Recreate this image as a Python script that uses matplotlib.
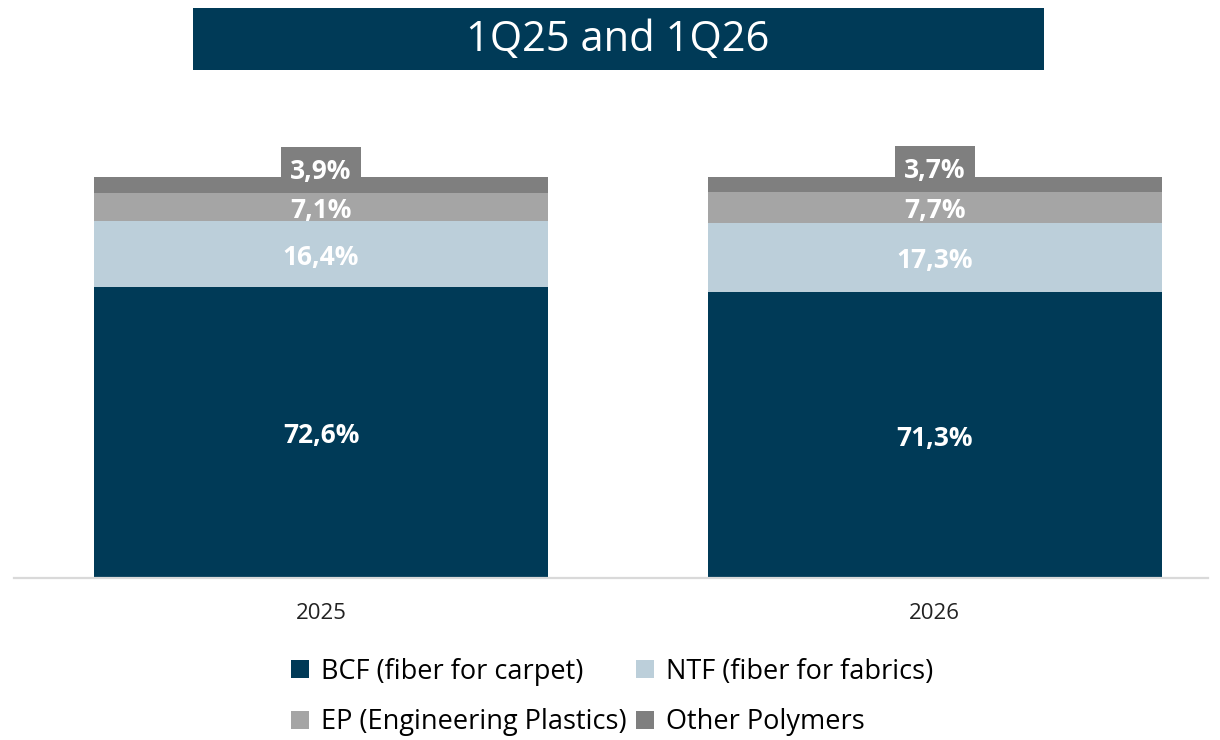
import matplotlib.pyplot as plt
from matplotlib.patches import Rectangle, Patch

plt.rcParams['font.family'] = ['Open Sans', 'DejaVu Sans']

years = ["2025", "2026"]
segments = ["BCF (fiber for carpet)", "NTF (fiber for fabrics)",
            "EP (Engineering Plastics)", "Other Polymers"]
bcf = [72.6, 71.3]
ntf = [16.4, 17.3]
ep = [7.1, 7.7]
other = [3.9, 3.7]
colors = ["#003a57", "#bccfda", "#a5a5a5", "#7f7f7f"]

W, H = 1220, 740
fig = plt.figure(figsize=(W / 100, H / 100), dpi=100)

# title banner
fig.patches.append(Rectangle((193 / W, 1 - 70 / H), (1044 - 193) / W, 62 / H,
                             transform=fig.transFigure, facecolor="#003a57",
                             edgecolor="none", zorder=0))
fig.text(618 / W, 1 - 40 / H, "1Q25 and 1Q26", color="white", fontsize=30,
         ha="center", va="center")

ax = fig.add_axes([14 / W, 1 - 578 / H, (1208 - 14) / W, (578 - 120) / H])
x = [0, 1]
width = 0.739
boxw = 0.13
series = [bcf, ntf, ep, other]
bottoms = [0.0, 0.0]
for name, vals, c in zip(segments, series, colors):
    ax.bar(x, vals, width, bottom=bottoms, color=c, label=name, zorder=2)
    for i, v in enumerate(vals):
        lbl = f"{v:.1f}%".replace(".", ",")
        y = bottoms[i] + v / 2 - 0.8
        if name == "Other Polymers":
            ax.add_patch(Rectangle((x[i] - boxw / 2, bottoms[i]), boxw, 11.4,
                                   facecolor=c, edgecolor="none", zorder=3))
            y = bottoms[i] + 5.2
        elif name == "EP (Engineering Plastics)":
            ax.add_patch(Rectangle((x[i] - boxw / 2, bottoms[i]), boxw, v,
                                   facecolor=c, edgecolor="none", zorder=3))
        ax.text(x[i], y, lbl, ha="center", va="center", color="white",
                fontsize=19, fontweight="bold", zorder=4)
    bottoms = [b + v for b, v in zip(bottoms, vals)]

ax.set_xlim(-0.5, 1.445)
ax.set_ylim(0, (578 - 120) / 401 * 100)
ax.set_xticks(x)
ax.set_xticklabels(years, fontsize=16, color="#222222")
ax.tick_params(axis="x", length=0, pad=18)
ax.set_yticks([])
for s in ["top", "left", "right"]:
    ax.spines[s].set_visible(False)
ax.spines["bottom"].set_color("#d9d9d9")
ax.spines["bottom"].set_linewidth(1.6)

# legend fills by column, so reorder to read row-wise
order = [0, 2, 1, 3]
handles = [Patch(facecolor=colors[k], edgecolor="none") for k in order]
fig.legend(handles, [segments[k] for k in order], loc="center",
           bbox_to_anchor=(612 / W, 1 - 697 / H),
           ncol=2, frameon=False, fontsize=19.5, handlelength=0.65, handleheight=0.65,
           handletextpad=0.45, columnspacing=0.35, labelspacing=0.82)

fig.savefig("out.png", dpi=100)
